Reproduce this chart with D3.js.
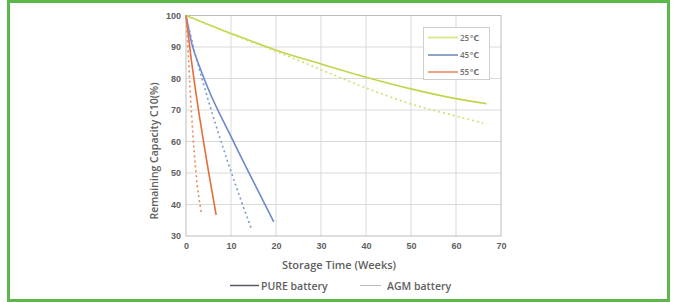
<!DOCTYPE html>
<html>
<head>
<meta charset="utf-8">
<script src="https://cdn.jsdelivr.net/npm/d3@7"></script>
<style>
  body { margin: 0; background: #fff; }
  svg { display: block; font-family: "Open Sans", "DejaVu Sans", sans-serif; }
</style>
</head>
<body>
<div id="chart"></div>
<script>
// data (weeks, remaining capacity %)
const temps = ["25℃", "45℃", "55℃"];
const pure25Weeks = [0, 10, 20, 30, 40, 50, 60, 66.8];
const pure25Vals = [100, 94.3, 89, 84.6, 80.4, 76.7, 73.6, 72];
const agm25Weeks = [0, 10, 20, 30, 40, 50, 60, 66];
const agm25Vals = [100, 94.1, 88.6, 82.8, 77, 71.9, 68.1, 65.8];
const pure45Weeks = [0, 1.3, 3, 5, 10.2, 19.5];
const pure45Vals = [100, 91, 83.8, 76.5, 61, 34.5];
const agm45Weeks = [0, 2, 3.85, 9.4, 14.5];
const agm45Vals = [100, 88, 78.5, 53, 32.4];
const pure55Weeks = [0, 1, 2, 5, 6.7];
const pure55Vals = [100, 88, 77.5, 50.5, 36.7];
const agm55Weeks = [0, 0.5, 0.9, 2.15, 3.5];
const agm55Vals = [100, 88, 77, 51, 36.7];
const xTicks = [0, 10, 20, 30, 40, 50, 60, 70];
const yTicks = [30, 40, 50, 60, 70, 80, 90, 100];

function init() {
    const w = 673;
    const h = 302;

    const svg = d3.select("#chart")
                    .append("svg")
                    .attr("width", w)
                    .attr("height", h);

    // green frame
    svg.append("rect")
        .attr("x", 8.5).attr("y", 1.5)
        .attr("width", 660).attr("height", 299)
        .attr("fill", "none")
        .attr("stroke", "#5cb84a")
        .attr("stroke-width", 3);

    const x = d3.scaleLinear().domain([0, 70]).range([186, 501]);
    const y = d3.scaleLinear().domain([30, 100]).range([236, 15.5]);

    // grid
    const g = svg.append("g");
    g.selectAll(".vg").data(xTicks.slice(1, -1)).enter().append("line")
        .attr("x1", d => x(d)).attr("x2", d => x(d))
        .attr("y1", y(100)).attr("y2", y(30))
        .attr("stroke", "#d9d9d9").attr("stroke-width", 1);
    g.selectAll(".hg").data(yTicks.slice(1, -1)).enter().append("line")
        .attr("x1", x(0)).attr("x2", x(70))
        .attr("y1", d => y(d)).attr("y2", d => y(d))
        .attr("stroke", "#d9d9d9").attr("stroke-width", 1);
    g.append("rect")
        .attr("x", x(0)).attr("y", y(100))
        .attr("width", x(70) - x(0)).attr("height", y(30) - y(100))
        .attr("fill", "none").attr("stroke", "#bdbdbd").attr("stroke-width", 1);

    // axes labels via d3 axes, lines hidden
    const xAxis = svg.append("g")
        .attr("transform", "translate(0," + y(30) + ")")
        .call(d3.axisBottom(x).tickValues(xTicks).tickSize(0).tickPadding(7));
    const yAxis = svg.append("g")
        .attr("transform", "translate(" + x(0) + ",0)")
        .call(d3.axisLeft(y).tickValues(yTicks).tickSize(0).tickPadding(5));
    [xAxis, yAxis].forEach(a => {
        a.select(".domain").remove();
        a.selectAll("text")
            .attr("fill", "#606060")
            .attr("font-size", "9px")
            .attr("font-weight", "600");
    });

    svg.append("text")
        .attr("x", 339).attr("y", 269)
        .attr("text-anchor", "middle")
        .attr("fill", "#606060")
        .attr("font-size", "11px")
        .attr("font-weight", "600")
        .text("Storage Time (Weeks)");
    svg.append("text")
        .attr("transform", "translate(158,151) rotate(-90)")
        .attr("text-anchor", "middle")
        .attr("fill", "#606060")
        .attr("font-size", "10.5px")
        .attr("font-weight", "600")
        .text("Remaining Capacity C10(%)");

    // series
    const series = [
        { wk: pure25Weeks, v: pure25Vals, c: "#c3d44a", dash: null },
        { wk: agm25Weeks, v: agm25Vals, c: "#d2df72", dash: "2,3" },
        { wk: pure45Weeks, v: pure45Vals, c: "#6c88cc", dash: null },
        { wk: agm45Weeks, v: agm45Vals, c: "#7d96d4", dash: "2,3" },
        { wk: pure55Weeks, v: pure55Vals, c: "#e66d3a", dash: null },
        { wk: agm55Weeks, v: agm55Vals, c: "#ec8a5a", dash: "2,3" }
    ];
    const line = d3.line()
        .x(d => x(d[0]))
        .y(d => y(d[1]))
        .curve(d3.curveMonotoneX);
    series.forEach(s => {
        svg.append("path")
            .datum(s.wk.map((d, i) => [d, s.v[i]]))
            .attr("d", line)
            .attr("fill", "none")
            .attr("stroke", s.c)
            .attr("stroke-width", 1.6)
            .attr("stroke-dasharray", s.dash);
    });

    // temperature legend
    const leg = svg.append("g");
    leg.append("rect")
        .attr("x", 423.5).attr("y", 27.5)
        .attr("width", 66).attr("height", 52)
        .attr("fill", "#fff").attr("stroke", "#cfcfcf");
    const legColors = ["#d8e790", "#8fa3c9", "#f0a282"];
    const legY = [37.5, 55, 72];
    temps.forEach((t, i) => {
        leg.append("line")
            .attr("x1", 428).attr("x2", 458)
            .attr("y1", legY[i]).attr("y2", legY[i])
            .attr("stroke", legColors[i]).attr("stroke-width", 2);
        leg.append("text")
            .attr("x", 460).attr("y", legY[i] + 3)
            .attr("fill", "#707070")
            .attr("font-size", "8px")
            .attr("font-weight", "600")
            .text(t);
    });

    // battery legend
    svg.append("line")
        .attr("x1", 230).attr("x2", 259)
        .attr("y1", 285.5).attr("y2", 285.5)
        .attr("stroke", "#5a5a6a").attr("stroke-width", 1.5);
    svg.append("text")
        .attr("x", 261).attr("y", 289.5)
        .attr("fill", "#606060").attr("font-size", "10.5px").attr("font-weight", "600")
        .text("PURE battery");
    svg.append("line")
        .attr("x1", 360).attr("x2", 381)
        .attr("y1", 285.5).attr("y2", 285.5)
        .attr("stroke", "#bbbbbb").attr("stroke-width", 1);
    svg.append("text")
        .attr("x", 387).attr("y", 289.5)
        .attr("fill", "#606060").attr("font-size", "10.5px").attr("font-weight", "600")
        .text("AGM battery");
}

window.onload = init;
</script>
</body>
</html>
